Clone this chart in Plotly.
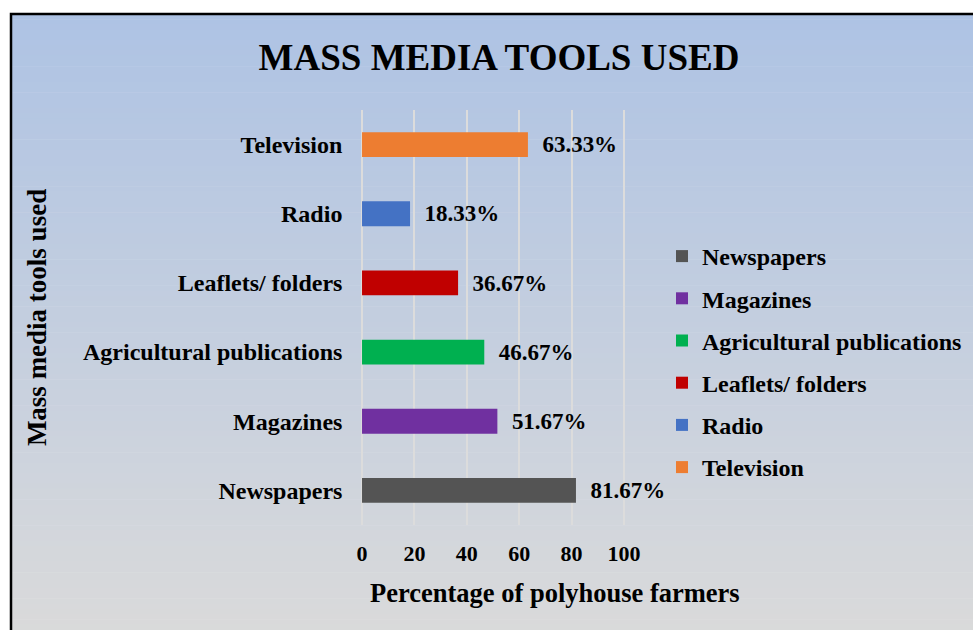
import plotly.graph_objects as go

W, H = 973, 630

categories = ["Newspapers", "Magazines", "Agricultural publications",
              "Leaflets/ folders", "Radio", "Television"]
values = [81.67, 51.67, 46.67, 36.67, 18.33, 63.33]
colors = ["#545454", "#7030A0", "#00B050", "#C00000", "#4472C4", "#ED7D31"]
x_ticks = [0, 20, 40, 60, 80, 100]

FONT = "Liberation Serif"

def px(x):
    return x / W

def py(y):
    return 1 - y / H

fig = go.Figure()
for i, (cat, val, col) in enumerate(zip(categories, values, colors)):
    fig.add_trace(go.Bar(
        y=[cat], x=[val], orientation="h", name=f"<b>{cat}</b>",
        marker=dict(color=col, line=dict(width=0)),
        width=0.36,
        text=[f"<b>{val:.2f}%</b>"],
        texttemplate="  %{text}",
        textposition="outside",
        textfont=dict(family=FONT, size=24, color="black", weight="bold"),
        outsidetextfont=dict(family=FONT, size=24, color="black", weight="bold"),
        cliponaxis=False,
        legendgroup=f"g{i}",
    ))

# vertical gradient background (strips)
shapes = []
top_c = (174, 195, 228)
bot_c = (218, 218, 218)
y_start, y_end = 14, 640
n = 120
step = (y_end - y_start) / n
for k in range(n):
    t = k / (n - 1)
    c = tuple(round(a + (b - a) * t) for a, b in zip(top_c, bot_c))
    y0 = y_start + k * step
    y1 = y0 + step + 0.6
    shapes.append(dict(
        type="rect", xref="paper", yref="paper",
        x0=px(10), x1=1.05, y0=py(y1), y1=py(y0),
        fillcolor=f"rgb{c}", line=dict(width=0), layer="below",
    ))
# frame border
shapes.append(dict(
    type="rect", xref="paper", yref="paper",
    x0=px(11), x1=1.05, y0=-0.05, y1=py(14),
    fillcolor="rgba(0,0,0,0)", line=dict(color="black", width=2.5), layer="above",
))

fig.update_layout(
    width=W, height=H, autosize=False,
    margin=dict(l=0, r=0, t=0, b=0),
    paper_bgcolor="white", plot_bgcolor="rgba(0,0,0,0)",
    barmode="overlay",
    shapes=shapes,
    title=dict(text="<b>MASS MEDIA TOOLS USED</b>", x=px(499), y=py(57),
               xanchor="center", yanchor="middle",
               font=dict(family=FONT, size=37, color="black")),
    xaxis=dict(
        domain=[px(359.4), px(626.6)], range=[-1, 101],
        tickvals=x_ticks, ticktext=[f"<b>{v}</b>" for v in x_ticks],
        showgrid=True, gridcolor="#DCDCDC", gridwidth=1.5,
        zeroline=False, showline=False, ticks="",
        ticklabelstandoff=13,
        tickfont=dict(family=FONT, size=22, color="black"),
        automargin=False, fixedrange=True,
    ),
    yaxis=dict(
        domain=[py(525), py(110)],
        categoryorder="array", categoryarray=categories,
        tickvals=categories, ticktext=[f"<b>{c}</b>" for c in categories],
        showgrid=False, zeroline=False, showline=False, ticks="",
        ticklabelstandoff=16,
        tickfont=dict(family=FONT, size=24, color="black"),
        title=dict(text="<b>Mass media tools used</b>", standoff=28,
                   font=dict(family=FONT, size=27, color="black")),
        automargin=False, fixedrange=True,
    ),
    annotations=[dict(
        text="<b>Percentage of polyhouse farmers</b>", xref="paper", yref="paper",
        x=px(555), y=py(593), xanchor="center", yanchor="middle", showarrow=False,
        font=dict(family=FONT, size=26.5, color="black"),
    )],
    legend=dict(
        x=px(662), y=py(234), xanchor="left", yanchor="top",
        bgcolor="rgba(0,0,0,0)", traceorder="grouped", tracegroupgap=8,
        font=dict(family=FONT, size=24, color="black"),
        itemclick=False, itemdoubleclick=False,
    ),
    showlegend=True,
)

fig.write_html("out.html")
